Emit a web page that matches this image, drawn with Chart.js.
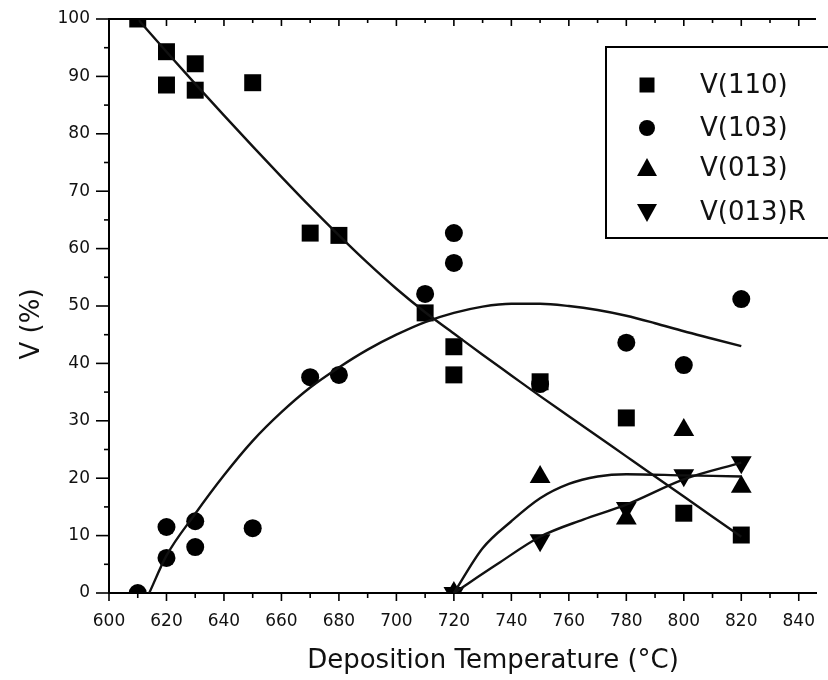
<!DOCTYPE html>
<html><head><meta charset="utf-8">
<script src="https://cdn.jsdelivr.net/npm/chart.js@4/dist/chart.umd.min.js"></script>
<style>html,body{margin:0;padding:0;background:#fff}#wrap{width:828px;height:680px}</style>
</head><body><div id="wrap"><canvas id="c" width="828" height="680"></canvas></div>
<script>
// ---- measured points ----
const T110 = [610, 620, 620, 630, 630, 650, 670, 680, 710, 720, 720, 750, 780, 800, 820];
const V110 = [100, 94.3, 88.5, 92.2, 87.6, 88.9, 62.7, 62.3, 48.8, 42.9, 38.0, 36.8, 30.5, 13.9, 10.1];
const T103 = [610, 620, 620, 630, 630, 650, 670, 680, 710, 720, 720, 750, 780, 800, 820];
const V103 = [0, 11.5, 6.1, 12.5, 8.0, 11.3, 37.6, 38.0, 52.1, 62.7, 57.5, 36.4, 43.6, 39.7, 51.2];
const T013 = [720, 750, 780, 800, 820];
const V013 = [0, 20.2, 13.0, 28.4, 18.5];
const T013R = [720, 750, 780, 800, 820];
const V013R = [0, 9.2, 14.8, 20.5, 22.8];

// ---- fitted curves ----
const fitT110 = [610, 620, 630, 640, 650, 660, 670, 680, 690, 700, 710, 720, 730, 740, 750, 760, 770, 780, 790, 800, 810, 820];
const fitV110 = [100, 94.3, 88.7, 83.2, 77.8, 72.5, 67.3, 62.3, 57.5, 53, 48.9, 45.2, 41.5, 37.9, 34.3, 30.8, 27.3, 23.8, 20.3, 16.8, 13.3, 9.8];
const fitT103 = [614, 620, 630, 640, 650, 660, 670, 680, 690, 700, 710, 720, 730, 740, 750, 760, 770, 780, 790, 800, 810, 820];
const fitV103 = [0, 6.5, 13.8, 20.5, 26.5, 31.5, 35.8, 39.3, 42.4, 45, 47.2, 48.8, 49.9, 50.4, 50.4, 50, 49.3, 48.3, 47, 45.6, 44.3, 43];
const fitT013 = [720, 730, 740, 750, 760, 770, 780, 800, 820];
const fitV013 = [0, 7.8, 12.5, 16.5, 19, 20.3, 20.7, 20.5, 20.3];
const fitT013R = [720, 735, 750, 765, 780, 800, 820];
const fitV013R = [0, 5, 9.8, 12.8, 15.4, 19.8, 22.7];

// ---- axis ticks and labels ----
const xTickValues = [600, 610, 620, 630, 640, 650, 660, 670, 680, 690, 700, 710, 720, 730, 740, 750, 760, 770, 780, 790, 800, 810, 820, 830, 840];
const seriesNames = ['V(110)', 'V(103)', 'V(013)', 'V(013)R'];
const xTitle = 'Deposition Temperature (\u00B0C)';
const yTitle = 'V (%)';

const zip = (xs, ys) => xs.map((x, i) => ({x: x, y: ys[i]}));
const K = '#000';
const FONT = '"DejaVu Sans", sans-serif';

const markerDs = (label, xs, ys, style, r, rot) => ({
  label, data: zip(xs, ys), showLine: false, pointStyle: style, pointRadius: r,
  pointHoverRadius: r, pointRotation: rot || 0, backgroundColor: K, borderColor: K, borderWidth: 0
});
const fitDs = (xs, ys) => ({
  label: '', data: zip(xs, ys), showLine: true, pointRadius: 0, borderColor: '#111',
  borderWidth: 2.4, tension: 0.4, cubicInterpolationMode: 'monotone', fill: false
});

const decor = {
  id: 'decor',
  afterDraw(chart) {
    const {ctx, chartArea: a, scales: {x, y}} = chart;
    ctx.save();
    ctx.strokeStyle = K; ctx.lineWidth = 1.6;
    const line = (x1, y1, x2, y2) => { ctx.beginPath(); ctx.moveTo(x1, y1); ctx.lineTo(x2, y2); ctx.stroke(); };
    x.ticks.forEach(t => {
      const px = x.getPixelForValue(t.value);
      const major = t.value % 20 === 0;
      line(px, a.bottom, px, a.bottom + (major ? 8 : 5));
      line(px, a.top, px, a.top + (major ? 7 : 4));
    });
    y.ticks.forEach(t => {
      const py = y.getPixelForValue(t.value);
      const major = t.value % 10 === 0;
      line(a.left - (major ? 13 : 5), py, a.left, py);
    });
    ctx.lineWidth = 2;
    line(a.left, a.top, a.right, a.top);
    // axis titles
    ctx.fillStyle = '#111';
    ctx.font = '26px ' + FONT;
    ctx.textAlign = 'center'; ctx.textBaseline = 'alphabetic';
    ctx.fillText(xTitle, 493, 668);
    ctx.save();
    ctx.translate(39, 324); ctx.rotate(-Math.PI / 2);
    ctx.font = '26px ' + FONT;
    ctx.fillText(yTitle, 0, 0);
    ctx.restore();
    // legend
    ctx.lineWidth = 2;
    ctx.strokeRect(606, 47, 240, 191);
    const rows = [85, 128, 168, 212];
    const mx = 647;
    ctx.fillStyle = K;
    rows.forEach((ry, i) => {
      ctx.beginPath();
      if (i === 0) { ctx.rect(mx - 7.5, ry - 7.5, 15, 15); }
      else if (i === 1) { ctx.arc(mx, ry, 8, 0, Math.PI * 2); }
      else if (i === 2) { ctx.moveTo(mx, ry - 10); ctx.lineTo(mx + 10, ry + 8); ctx.lineTo(mx - 10, ry + 8); ctx.closePath(); }
      else { ctx.moveTo(mx, ry + 10); ctx.lineTo(mx + 10, ry - 8); ctx.lineTo(mx - 10, ry - 8); ctx.closePath(); }
      ctx.fill();
      ctx.font = '26px ' + FONT;
      ctx.textAlign = 'left'; ctx.textBaseline = 'middle';
      ctx.fillStyle = '#111';
      ctx.fillText(seriesNames[i], 700, ry + 1);
      ctx.fillStyle = K;
    });
    ctx.restore();
  }
};

new Chart(document.getElementById('c'), {
  type: 'scatter',
  data: {
    datasets: [
      fitDs(fitT110, fitV110),
      fitDs(fitT103, fitV103),
      fitDs(fitT013, fitV013),
      fitDs(fitT013R, fitV013R),
      markerDs(seriesNames[0], T110, V110, 'rect', 12),
      markerDs(seriesNames[1], T103, V103, 'circle', 9),
      markerDs(seriesNames[2], T013, V013, 'triangle', 12),
      markerDs(seriesNames[3], T013R, V013R, 'triangle', 12, 180)
    ]
  },
  options: {
    responsive: false, animation: false,
    layout: {padding: {top: 19, right: 0, left: 0, bottom: 0}},
    plugins: {legend: {display: false}, tooltip: {enabled: false}},
    scales: {
      x: {
        type: 'linear', position: 'bottom', min: 600, max: 846,
        afterBuildTicks(s) { s.ticks = xTickValues.map(v => ({value: v})); },
        afterFit(s) { s.height = 87; s.paddingLeft = 0; s.paddingRight = 0; },
        ticks: {autoSkip: false, maxRotation: 0, padding: 18, color: '#111',
          font: {family: FONT, size: 17}, callback: v => (v % 20 === 0 ? String(v) : '')},
        grid: {drawOnChartArea: false, drawTicks: false},
        border: {color: K, width: 2}
      },
      y: {
        type: 'linear', min: 0, max: 100,
        afterFit(s) { s.width = 109; s.paddingTop = 0; s.paddingBottom = 0; },
        ticks: {stepSize: 5, autoSkip: false, padding: 19, color: '#111',
          font: {family: FONT, size: 17}, callback: v => (v % 10 === 0 ? String(v) : '')},
        grid: {drawOnChartArea: false, drawTicks: false},
        border: {color: K, width: 2}
      }
    }
  },
  plugins: [decor]
});
</script></body></html>
